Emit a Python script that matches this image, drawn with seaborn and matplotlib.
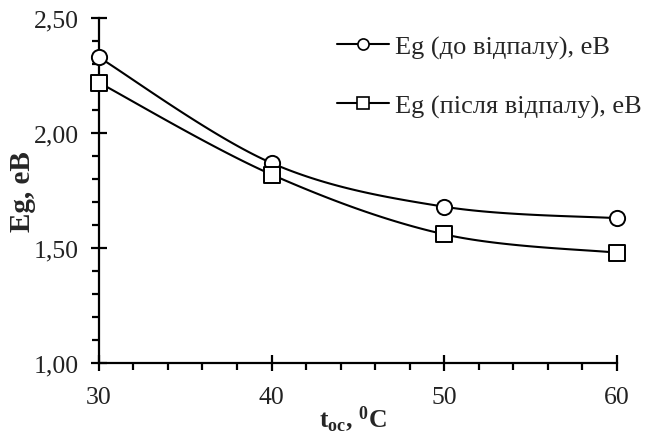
import numpy as np
import pandas as pd
import matplotlib
matplotlib.use("Agg")
import matplotlib.pyplot as plt
from matplotlib.ticker import MultipleLocator, FuncFormatter
from matplotlib.lines import Line2D
import seaborn as sns

# ---- data ----
temps = [30, 40, 50, 60]
eg_before = [2.33, 1.87, 1.68, 1.63]
eg_after = [2.22, 1.82, 1.56, 1.48]
label_before = "Eg (до відпалу), еВ"
label_after = "Eg (після відпалу), еВ"
x_ticks = [30, 40, 50, 60]
y_ticks = [1.00, 1.50, 2.00, 2.50]

sns.set_theme(style="ticks")
plt.rcParams["font.family"] = ["Liberation Serif", "DejaVu Serif"]
plt.rcParams["mathtext.fontset"] = "custom"
plt.rcParams["mathtext.rm"] = "Liberation Serif"
plt.rcParams["mathtext.bf"] = "Liberation Serif:bold"
plt.rcParams["mathtext.it"] = "Liberation Serif:italic"


def smooth(xs, ys, n=40):
    """Excel-like smoothed line (Catmull-Rom Bezier) through the data points."""
    P = np.column_stack([xs, ys]).astype(float)
    P = np.vstack([P[0], P, P[-1]])
    out = []
    t = np.linspace(0, 1, n)[:, None]
    for i in range(1, len(P) - 2):
        p0, p1, p2, p3 = P[i - 1], P[i], P[i + 1], P[i + 2]
        c1 = p1 + (p2 - p0) / 6
        c2 = p2 - (p3 - p1) / 6
        seg = ((1 - t) ** 3) * p1 + 3 * ((1 - t) ** 2) * t * c1 + 3 * (1 - t) * t ** 2 * c2 + t ** 3 * p2
        out.append(seg if i == 1 else seg[1:])
    arr = np.vstack(out)
    return arr[:, 0], arr[:, 1]


fig = plt.figure(figsize=(6.46, 4.35), dpi=100)
ax = fig.add_axes([0.153, 0.163, 0.802, 0.793])

for ys, mk, lab in [(eg_before, "o", label_before), (eg_after, "s", label_after)]:
    sx, sy = smooth(temps, ys)
    sns.lineplot(x=sx, y=sy, ax=ax, color="black", linewidth=1.5, sort=False,
                 estimator=None, legend=False)
    sns.scatterplot(x=temps, y=ys, ax=ax, marker=mk, s=120, facecolor="white",
                    edgecolor="black", linewidth=1.4, zorder=5, legend=False, clip_on=False)

ax.set_xlim(30, 60)
ax.set_ylim(1.0, 2.5)
ax.set_xticks(x_ticks)
ax.set_yticks(y_ticks)
ax.xaxis.set_minor_locator(MultipleLocator(2))
ax.yaxis.set_minor_locator(MultipleLocator(0.1))
ax.yaxis.set_major_formatter(FuncFormatter(lambda v, p: f"{v:.2f}".replace(".", ",")))

for s in ["top", "right"]:
    ax.spines[s].set_visible(False)
for s in ["left", "bottom"]:
    ax.spines[s].set_linewidth(1.6)
    ax.spines[s].set_color("black")

ax.tick_params(which="major", direction="inout", length=11, width=1.6, color="black",
               labelsize=18.5, labelcolor="#222222")
ax.tick_params(axis="y", which="major", pad=9)
ax.tick_params(axis="x", which="major", pad=11)
ax.tick_params(which="minor", direction="out", length=5, width=1.6, color="black")

ax.set_ylabel("Eg, eB", fontsize=21, fontweight="bold")
ax.yaxis.set_label_coords(-0.122, 0.5)
ax.set_xlabel(r"$\mathbf{t_{oc}}$, $\mathbf{^{0}}$C", fontsize=18.5, fontweight="bold")
ax.xaxis.set_label_coords(0.49, -0.116)

handles = [
    Line2D([0], [0], color="black", lw=1.5, marker="o", markersize=8,
           markerfacecolor="white", markeredgecolor="black", markeredgewidth=1.2),
    Line2D([0], [0], color="black", lw=1.5, marker="s", markersize=8,
           markerfacecolor="white", markeredgecolor="black", markeredgewidth=1.2),
]
ax.legend(handles, [label_before, label_after], loc="upper left",
          bbox_to_anchor=(0.459, 0.952), frameon=False, fontsize=19,
          handlelength=2.0, handletextpad=0.2, labelspacing=1.35,
          borderaxespad=0, borderpad=0)

fig.savefig("out.png", dpi=100)
